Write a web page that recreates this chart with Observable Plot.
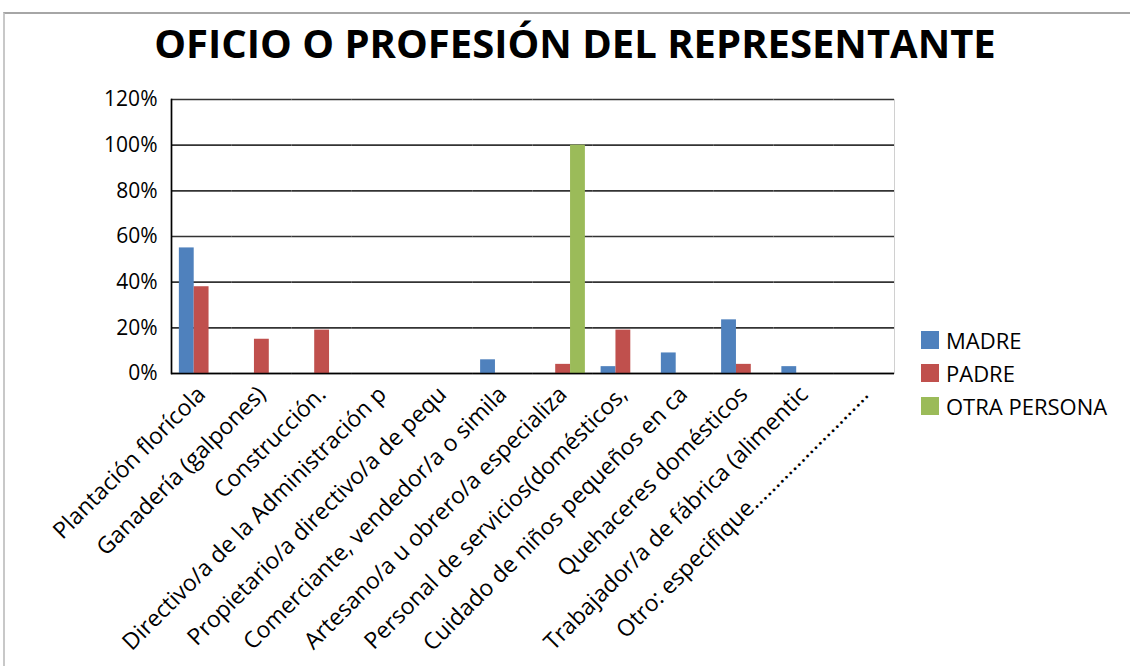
<!DOCTYPE html>
<html>
<head>
<meta charset="utf-8">
<script src="https://cdn.jsdelivr.net/npm/d3@7"></script>
<script src="https://cdn.jsdelivr.net/npm/@observablehq/plot@0.6"></script>
<style>
  html, body { margin: 0; padding: 0; background: #fff; }
  body { width: 1130px; height: 666px; overflow: hidden; position: relative; font-family: "Open Sans", sans-serif; }
  #frame { position: absolute; left: 3px; top: 12px; width: 1127px; height: 660px; border-top: 2px solid #a6a6a6; border-left: 2px solid #c8c8c8; box-sizing: border-box; }
  #title { position: absolute; left: 0; top: 23px; width: 1150px; text-align: center; font-weight: 700; font-size: 40px; line-height: 40px; color: #000; white-space: nowrap; }
  #chart { position: absolute; left: 4px; top: 80px; }
  #legend { position: absolute; left: 921px; top: 323px; font-size: 22px; color: #000; }
  #legend .row { display: flex; align-items: center; height: 33px; }
  #legend .sw { width: 18px; height: 18px; margin-right: 7px; }
</style>
</head>
<body>
<div id="frame"></div>
<div id="title">OFICIO O PROFESIÓN DEL REPRESENTANTE</div>
<div id="chart"></div>
<div id="legend"></div>
<script>
const categories = [
  "Plantación florícola",
  "Ganadería (galpones)",
  "Construcción.",
  "Directivo/a de la Administración p",
  "Propietario/a directivo/a de pequ",
  "Comerciante, vendedor/a o simila",
  "Artesano/a u obrero/a especializa",
  "Personal de servicios(domésticos,",
  "Cuidado de niños pequeños en ca",
  "Quehaceres domésticos",
  "Trabajador/a de fábrica (alimentic",
  "Otro: especifique………………………"
];
const series = ["MADRE", "PADRE", "OTRA PERSONA"];
const colors = ["#4F81BD", "#C0504D", "#9BBB59"];
const madre = [0.55, 0, 0, 0, 0, 0.06, 0, 0.03, 0.09, 0.235, 0.03, 0];
const padre = [0.38, 0.15, 0.19, 0, 0, 0, 0.04, 0.19, 0, 0.04, 0, 0];
const otra  = [0, 0, 0, 0, 0, 0, 1.00, 0, 0, 0, 0, 0];
const yTicks = [0, 0.2, 0.4, 0.6, 0.8, 1.0, 1.2];

const values = [madre, padre, otra];
const data = [];
categories.forEach((c, i) => {
  series.forEach((s, j) => {
    data.push({cat: c, serie: s, value: values[j][i]});
  });
});

const chart = Plot.plot({
  width: 1126,
  height: 586,
  marginLeft: 167,
  marginRight: 236,
  marginTop: 19,
  marginBottom: 293,
  style: {fontFamily: "Open Sans", fontSize: "22px", color: "#000", background: "transparent", overflow: "visible"},
  fx: {domain: categories, padding: 0, label: null, round: false},
  x: {domain: series, paddingInner: 0, paddingOuter: 0.53, round: false, axis: null},
  y: {domain: [0, 1.2], label: null},
  color: {domain: series, range: colors},
  marks: [
    Plot.gridY(yTicks, {stroke: "#333", strokeOpacity: 1, strokeWidth: 1.7}),
    Plot.barY(data, {fx: "cat", x: "serie", y: "value", fill: "serie"}),
    Plot.ruleY([0], {stroke: "#000", strokeWidth: 1.7}),
    Plot.frame({anchor: "left", facetAnchor: "left", stroke: "#000", strokeWidth: 1.7}),
    Plot.frame({anchor: "right", facetAnchor: "right", stroke: "#d0d0d0", strokeWidth: 1}),
    Plot.axisY(yTicks, {facetAnchor: "left", tickSize: 0, tickPadding: 14, tickFormat: d3.format(".0%"), fontSize: 21, label: null}),
    Plot.axisFx({anchor: "bottom", tickRotate: -45, tickSize: 0, tickPadding: 17, fontSize: 23, label: null})
  ]
});
document.getElementById("chart").appendChild(chart);

const legend = document.getElementById("legend");
series.forEach((s, i) => {
  const row = document.createElement("div");
  row.className = "row";
  const sw = document.createElement("div");
  sw.className = "sw";
  sw.style.background = colors[i];
  const t = document.createElement("span");
  t.textContent = s;
  row.appendChild(sw);
  row.appendChild(t);
  legend.appendChild(row);
});
</script>
</body>
</html>
